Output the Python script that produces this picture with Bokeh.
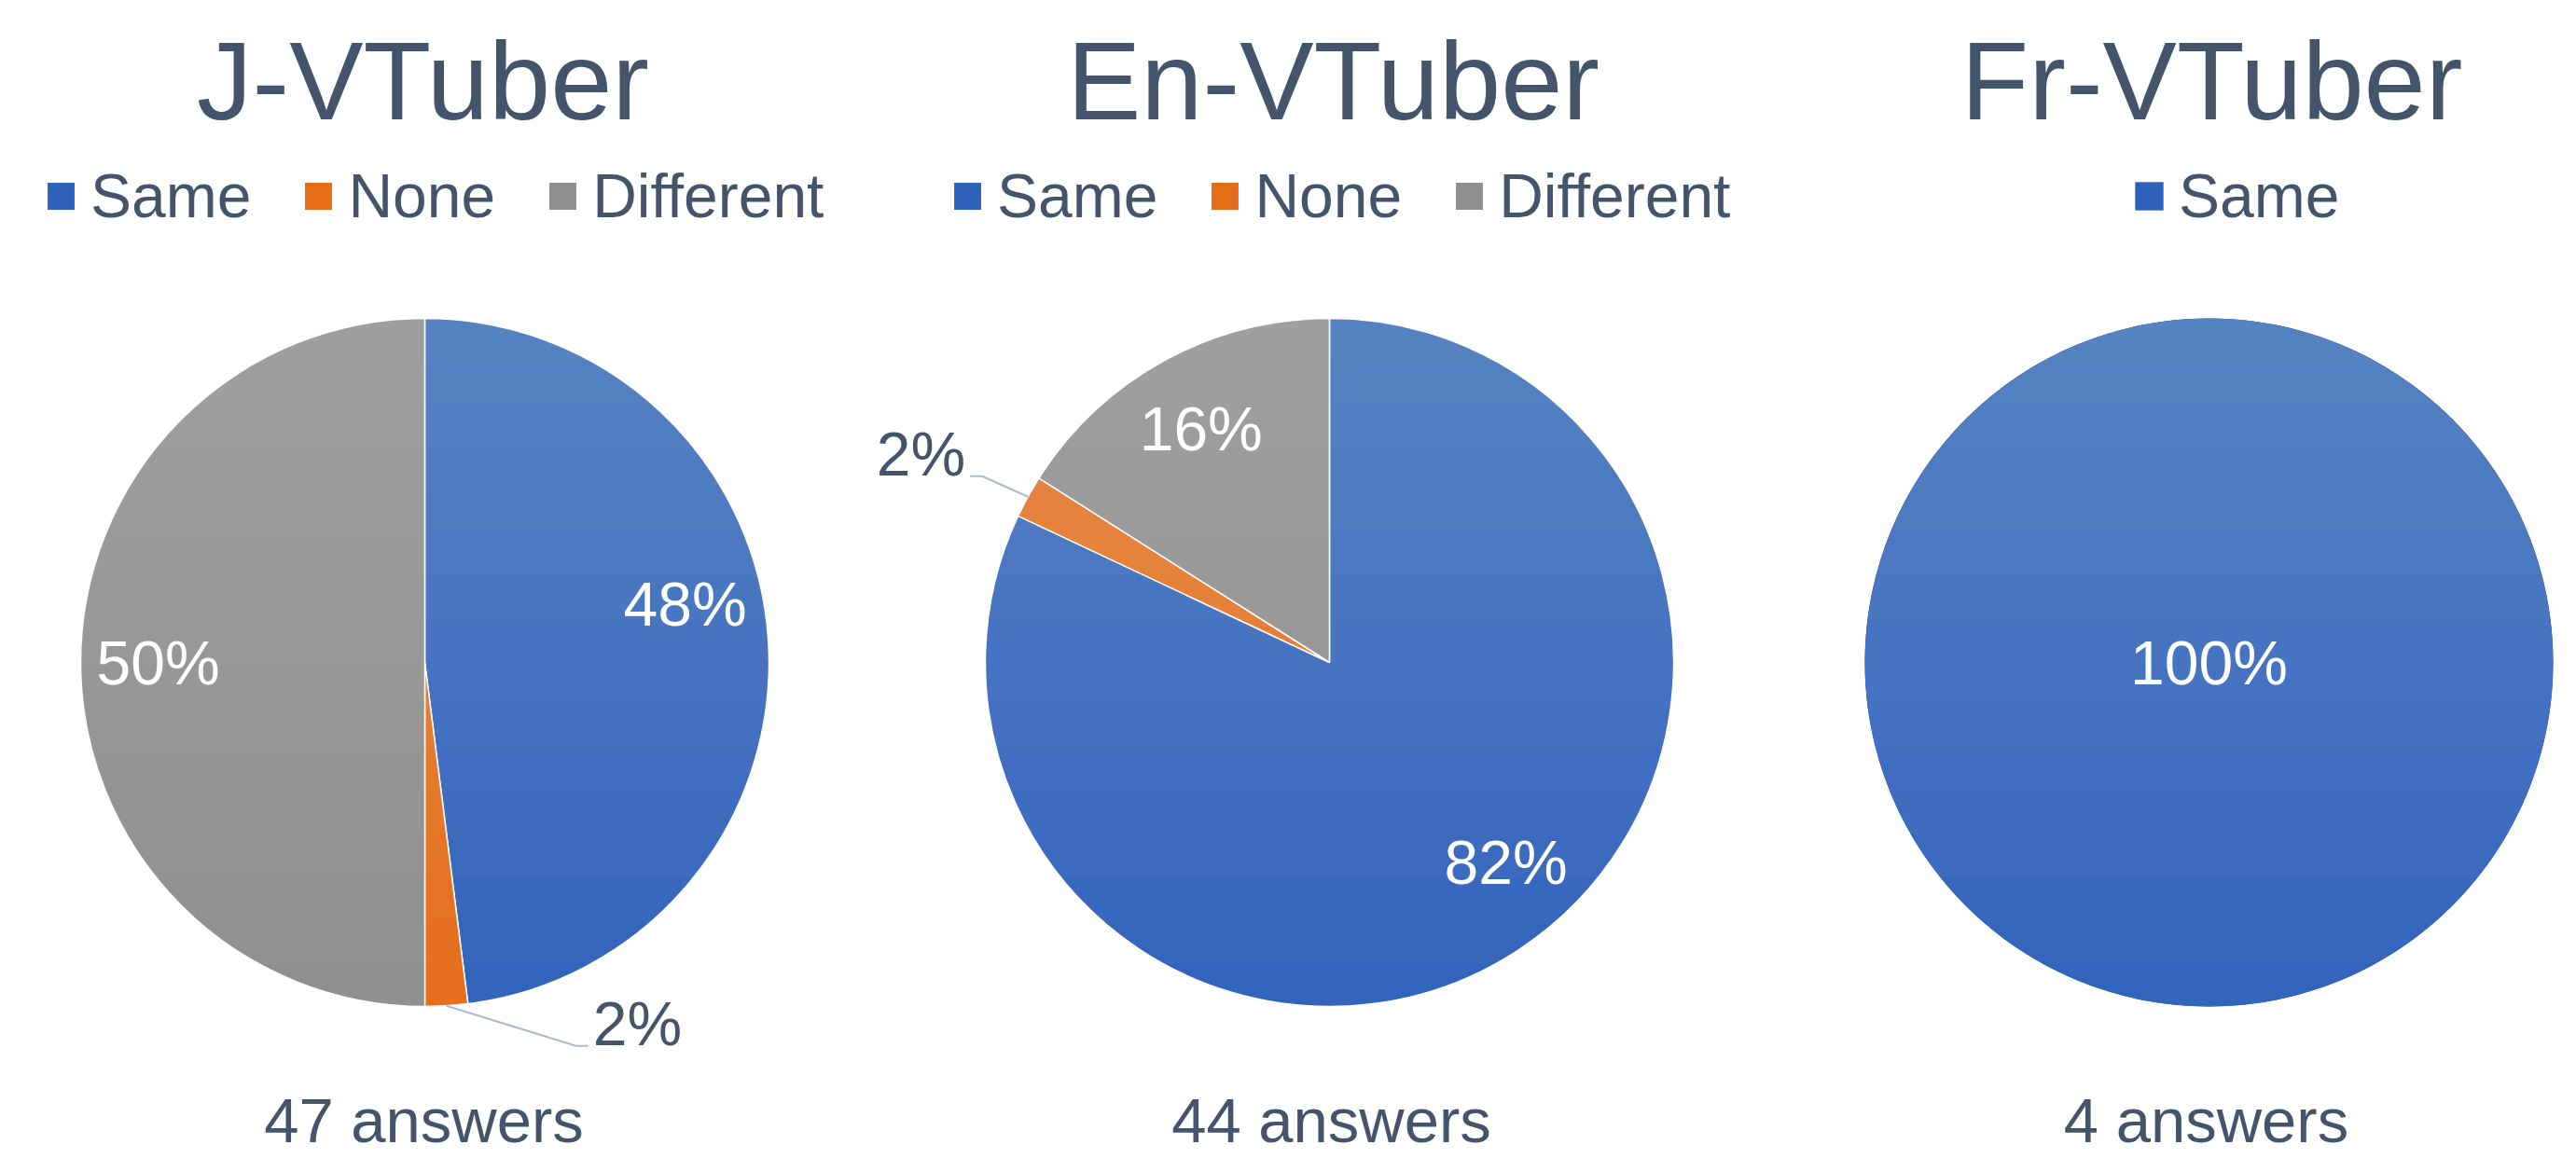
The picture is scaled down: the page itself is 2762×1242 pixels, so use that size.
import numpy as np
from bokeh.plotting import figure
from bokeh.models import ColumnDataSource, Range1d, Legend, LegendItem
from bokeh.core.properties import value
from bokeh.embed import file_html
from bokeh.resources import INLINE

# ---------------- data ----------------
titles = ["J-VTuber", "En-VTuber", "Fr-VTuber"]
answers = [47, 44, 4]
categories_j = ["Same", "None", "Different"]
categories_en = ["Same", "None", "Different"]
categories_fr = ["Same"]
percent_j = [48, 2, 50]
percent_en = [82, 2, 16]
percent_fr = [100]

charts = [
    (titles[0], answers[0], categories_j, percent_j),
    (titles[1], answers[1], categories_en, percent_en),
    (titles[2], answers[2], categories_fr, percent_fr),
]

# ---------------- style / layout ----------------
W, H = 2762, 1242
TEXT = "#44546A"
LEADER = "#ADB9CA"
FONT = "Liberation Sans"
fill = {"Same": "#2F62BA", "None": "#E56D1A", "Different": "#8F8F8F"}

pie_cx = [455, 1425, 2368]
pie_cy = 710          # screen px from top
R = 369
title_x = [453, 1429, 2371]
title_mid = 86
legend_left = [46, 1018, 2285]
legend_mid = 211
answers_x = [454, 1427, 2365]
answers_mid = 1201
inside_f = 0.775
label_turn = {"Same": -9.0}
callout_offset = {0: (139, 43), 1: (-49, -22)}
GRAD_TOP_ALPHA = 0.24
N_LAYERS = 16


def sy(y):
    return H - y


p = figure(width=W, height=H, x_range=Range1d(0, W), y_range=Range1d(0, H),
           output_backend="svg", toolbar_location=None,
           x_axis_type=None, y_axis_type=None, min_border=0,
           outline_line_color=None, background_fill_color="white",
           border_fill_color="white")
p.grid.visible = False

for k, (title, n_ans, cats, pcts) in enumerate(charts):
    cx, cyd = pie_cx[k], sy(pie_cy)
    vals = np.array(pcts, dtype=float)
    frac = vals / vals.sum()
    cum = np.concatenate([[0.0], np.cumsum(frac)])
    start = np.pi / 2 - 2 * np.pi * cum[:-1]
    end = np.pi / 2 - 2 * np.pi * cum[1:]
    end = np.maximum(end, start - 2 * np.pi + 1e-3)
    n = len(cats)
    if n == 1:
        # solid disc under a single full slice, so no seam shows
        p.circle(x=[cx], y=[cyd], radius=R, fill_color=fill[cats[0]], line_color=None)
    src = ColumnDataSource(dict(
        x=[cx] * n, y=[cyd] * n, start=start, end=end,
        color=[fill[c] for c in cats],
        lalpha=[1.0 if n > 1 else 0.0] * n,
        cat=cats,
    ))
    r = p.wedge(x="x", y="y", radius=R, start_angle="start", end_angle="end",
                direction="clock", fill_color="color", line_color="white",
                line_width=1.5, line_alpha="lalpha", source=src)

    # vertical light gradient (stack of translucent white caps)
    xs, ys = [], []
    for i in range(1, N_LAYERS + 1):
        level = cyd + R - (i / N_LAYERS) * 2 * R
        s = np.clip((level - cyd) / R, -1, 1)
        th0 = np.arcsin(s)
        th = np.linspace(th0, np.pi - th0, 160)
        xs.append(list(cx + R * np.cos(th)))
        ys.append(list(cyd + R * np.sin(th)))
    a = 1 - (1 - GRAD_TOP_ALPHA) ** (1.0 / N_LAYERS)
    p.patches(xs, ys, fill_color="white", fill_alpha=a, line_color=None)

    # legend
    items = [LegendItem(label=c, renderers=[r], index=i) for i, c in enumerate(cats)]
    leg = Legend(items=items, orientation="horizontal",
                 location=(legend_left[k], H - legend_mid - 37),
                 label_text_font=FONT, label_text_font_size="66px",
                 label_text_color=TEXT, glyph_width=38, glyph_height=38,
                 label_standoff=13, spacing=53, padding=0, margin=0,
                 border_line_alpha=0, background_fill_alpha=0,
                 label_height=38)
    p.add_layout(leg)

    # title and answers
    p.text(x=[title_x[k]], y=[sy(title_mid)], text=[title],
           text_font=value(FONT), text_font_size="119px", text_color=TEXT,
           text_align="center", text_baseline="middle")
    p.text(x=[answers_x[k]], y=[sy(answers_mid)], text=[f"{n_ans} answers"],
           text_font=value(FONT), text_font_size="67px", text_color=TEXT,
           text_align="center", text_baseline="middle")

    # data labels
    mids = (cum[:-1] + cum[1:]) / 2
    in_x, in_y, in_t = [], [], []
    for i, c in enumerate(cats):
        lab = f"{pcts[i]}%"
        if n == 1:
            in_x.append(cx); in_y.append(cyd); in_t.append(lab)
            continue
        ang = np.deg2rad(mids[i] * 360.0)
        if frac[i] >= 0.05:
            ang2 = ang + np.deg2rad(label_turn.get(c, 0.0))
            in_x.append(cx + inside_f * R * np.sin(ang2))
            in_y.append(cyd + inside_f * R * np.cos(ang2))
            in_t.append(lab)
        else:
            ex = cx + R * np.sin(ang)
            ey = cyd + R * np.cos(ang)
            dx, dy = callout_offset[k]
            bx, by = ex + dx, ey - dy
            side = 1 if dx > 0 else -1
            tx = bx + side * 13
            p.line([ex, bx, tx], [ey, by, by], line_color=LEADER, line_width=2)
            p.text(x=[tx + side * 5], y=[by + 24], text=[lab], text_font=value(FONT),
                   text_font_size="66px", text_color=TEXT,
                   text_align="left" if side > 0 else "right",
                   text_baseline="middle")
    p.text(x=in_x, y=in_y, text=in_t, text_font=value(FONT),
           text_font_size="66px", text_color="white", text_align="center",
           text_baseline="middle")

open("out.html", "w").write(file_html(p, INLINE))
